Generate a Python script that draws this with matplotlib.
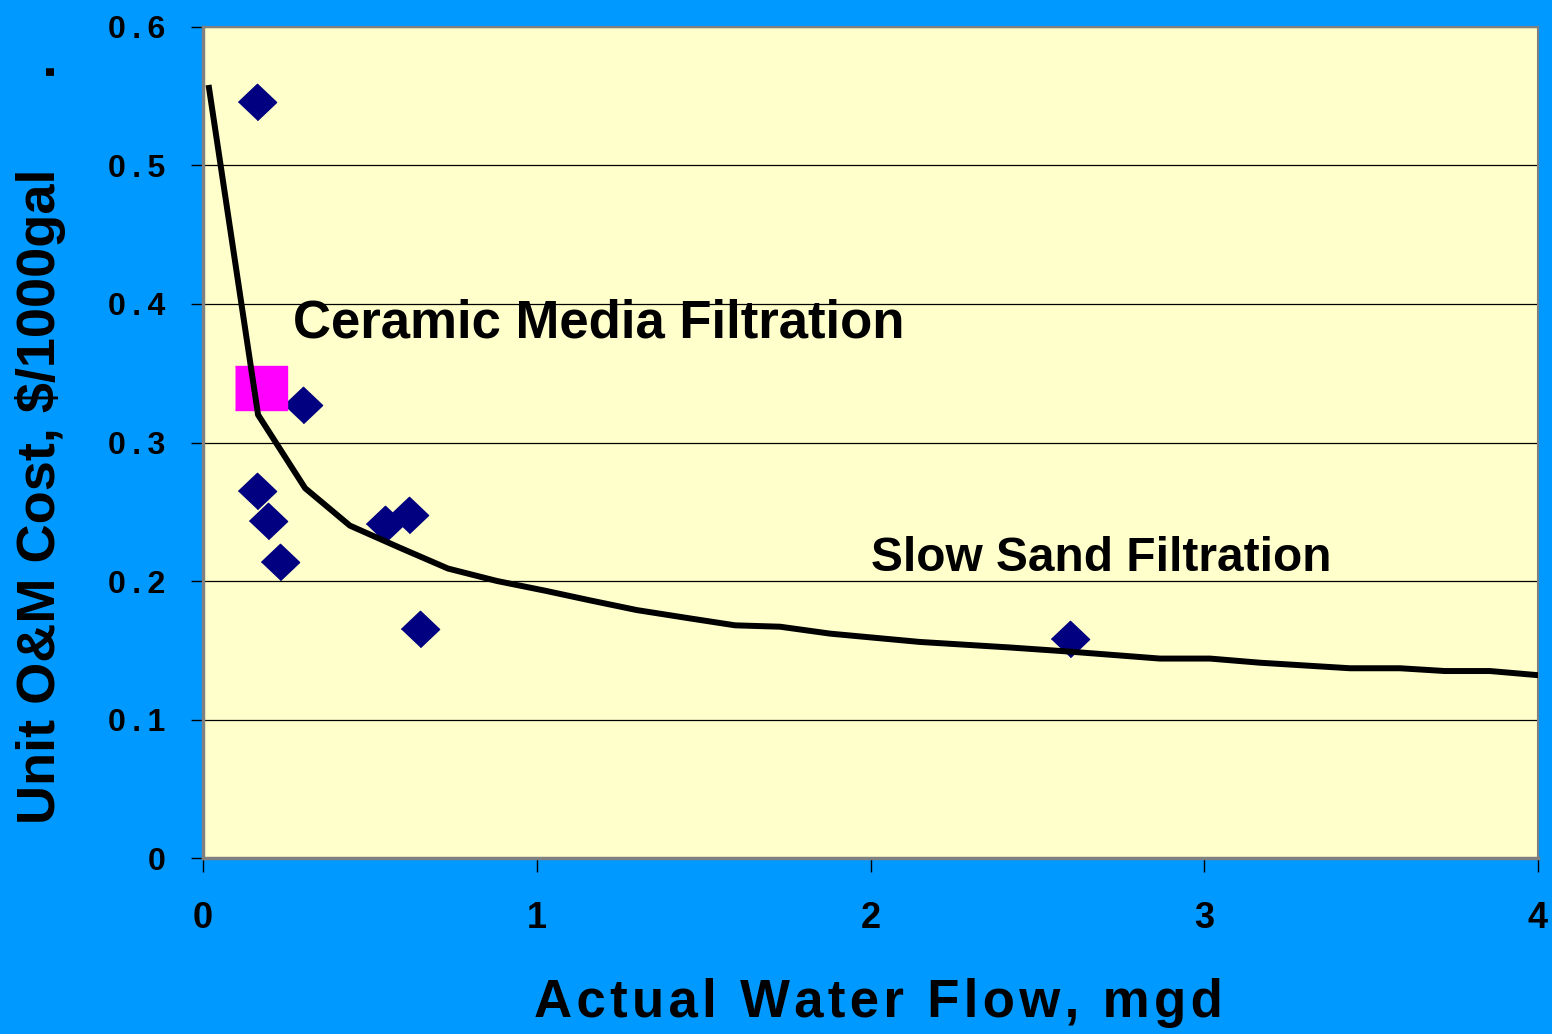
import matplotlib
matplotlib.use("Agg")
import matplotlib.pyplot as plt

# measured plant data (diamonds)
flow_pts = [0.162, 0.30, 0.162, 0.195, 0.231, 0.545, 0.617, 0.650, 2.598]
cost_pts = [0.546, 0.327, 0.265, 0.243, 0.214, 0.241, 0.248, 0.165, 0.158]

# ceramic media filtration point
ceramic_flow = [0.174]
ceramic_cost = [0.339]

# slow sand filtration cost curve
curve_flow = [0.018, 0.165, 0.306, 0.440, 0.590, 0.734, 0.881, 1.025, 1.160,
              1.300, 1.459, 1.594, 1.729, 1.879, 2.013, 2.148, 2.418, 2.598,
              2.867, 3.017, 3.167, 3.437, 3.587, 3.721, 3.856, 4.0]
curve_cost = [0.556, 0.320, 0.267, 0.240, 0.224, 0.209, 0.200, 0.193, 0.186,
              0.179, 0.173, 0.168, 0.167, 0.162, 0.159, 0.156, 0.152, 0.149,
              0.144, 0.144, 0.141, 0.137, 0.137, 0.135, 0.135, 0.132]

x_ticks = [0, 1, 2, 3, 4]
y_ticks = [0, 0.1, 0.2, 0.3, 0.4, 0.5, 0.6]
y_tick_labels = ["0", "0.1", "0.2", "0.3", "0.4", "0.5", "0.6"]

BG = "#0099FF"
PLOT_BG = "#FFFFCC"
FONT = ["Liberation Sans", "DejaVu Sans"]
THIN = "\u2009"
HAIR = "\u200a"

fig = plt.figure(figsize=(15.52, 10.34), dpi=100, facecolor=BG)
ax = fig.add_axes([0.1308, 0.1702, 0.8602, 0.8037])
ax.set_facecolor(PLOT_BG)

diamond = [(-1, 0), (0, 0.95), (1, 0), (0, -0.95)]
rect = [(-1, -0.85), (1, -0.85), (1, 0.85), (-1, 0.85)]

ax.plot(flow_pts, cost_pts, linestyle="none", marker=diamond, ms=27.5,
        color="#000080", zorder=3)
ax.plot(ceramic_flow, ceramic_cost, linestyle="none", marker=rect, ms=37,
        color="#FF00FF", zorder=4)
ax.plot(curve_flow, curve_cost, color="black", lw=4.3, zorder=5,
        solid_joinstyle="miter")

ax.set_xlim(0, 4)
ax.set_ylim(0, 0.6)
ax.set_xticks(x_ticks)
ax.set_yticks(y_ticks)
ax.set_yticklabels([THIN.join(lab) for lab in y_tick_labels])
ax.grid(True, axis="y", color="black", lw=0.9, zorder=1)
ax.set_axisbelow(True)

ax.tick_params(axis="y", length=8.6, width=1, color="black", pad=18.5,
               labelsize=23)
ax.tick_params(axis="x", length=10, width=1, color="black", pad=21,
               labelsize=26)
for lab in ax.get_xticklabels() + ax.get_yticklabels():
    lab.set_fontweight("bold")
    lab.set_family(FONT)

for side in ("left", "bottom"):
    ax.spines[side].set_color("#808080")
    ax.spines[side].set_linewidth(2.5)
for side in ("top", "right"):
    ax.spines[side].set_color("#808080")
    ax.spines[side].set_linewidth(1.5)

ax.text(0.27, 0.386, "Ceramic Media Filtration", fontsize=38, fontweight="bold",
        family=FONT, va="center", ha="left", zorder=6)
ax.text(2.0, 0.216, "Slow Sand Filtration", fontsize=34.5, fontweight="bold",
        family=FONT, va="center", ha="left", zorder=6)

fig.text(0.566, 0.030, HAIR.join("Actual Water Flow, mgd"), fontsize=38,
         fontweight="bold", family=FONT, ha="center", va="center")
fig.text(0.026, 0.571, "Unit O&M Cost, $/1000gal      .", fontsize=39,
         fontweight="bold", family=FONT, rotation=90, ha="center", va="center")

fig.savefig("out.png", dpi=100, facecolor=BG)
